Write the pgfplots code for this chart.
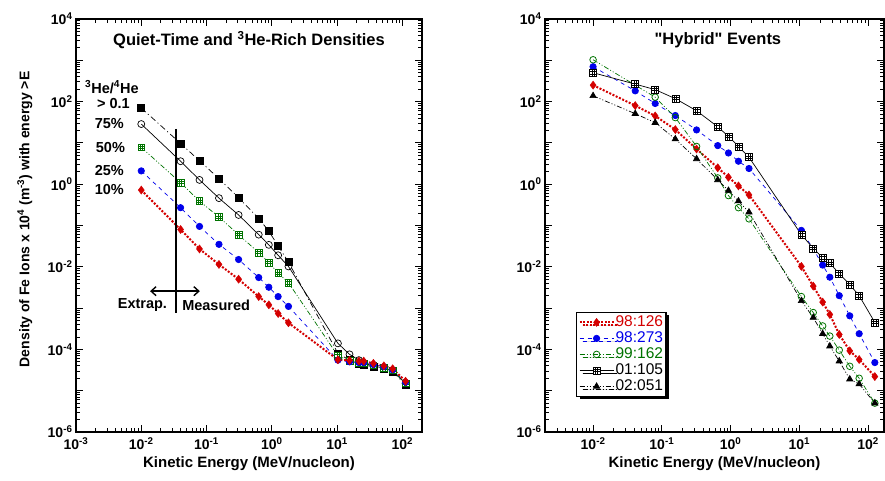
\documentclass[border=0pt]{standalone}
\usepackage{fontspec}
\setmainfont{Liberation Sans}
\usepackage{pgfplots}
\pgfplotsset{compat=1.18}
\usetikzlibrary{arrows.meta,shadows}

\definecolor{sred}{RGB}{212,0,0}
\definecolor{sblue}{RGB}{0,0,235}
\definecolor{sgreen}{RGB}{0,115,0}

% square with a small grid inside
\pgfdeclareplotmark{boxgrid}{%
  \pgfpathrectangle{\pgfpoint{-\pgfplotmarksize}{-\pgfplotmarksize}}{\pgfpoint{2\pgfplotmarksize}{2\pgfplotmarksize}}%
  \pgfusepathqfillstroke
  \pgfpathmoveto{\pgfpoint{-0.33\pgfplotmarksize}{-\pgfplotmarksize}}\pgfpathlineto{\pgfpoint{-0.33\pgfplotmarksize}{\pgfplotmarksize}}%
  \pgfpathmoveto{\pgfpoint{0.33\pgfplotmarksize}{-\pgfplotmarksize}}\pgfpathlineto{\pgfpoint{0.33\pgfplotmarksize}{\pgfplotmarksize}}%
  \pgfpathmoveto{\pgfpoint{-\pgfplotmarksize}{-0.33\pgfplotmarksize}}\pgfpathlineto{\pgfpoint{\pgfplotmarksize}{-0.33\pgfplotmarksize}}%
  \pgfpathmoveto{\pgfpoint{-\pgfplotmarksize}{0.33\pgfplotmarksize}}\pgfpathlineto{\pgfpoint{\pgfplotmarksize}{0.33\pgfplotmarksize}}%
  \pgfusepathqstroke
}

\newcommand{\tenp}[1]{\textbf{10\textsuperscript{#1}}}

\pgfplotsset{
  legend image code/.code={\draw[mark repeat=2,mark phase=2,#1] plot coordinates {(0pt,0pt) (17pt,0pt) (34pt,0pt)};},
  scale only axis,
  axis line style={line width=1.4pt},
  major tick length=0pt, minor tick length=0pt,
  tick label style={font=\fontsize{14}{14}\selectfont\bfseries},
  xticklabel style={yshift=-2pt},
  xlabel style={font=\fontsize{15}{15}\selectfont\bfseries},
  ylabel style={font=\fontsize{14}{14}\selectfont\bfseries},
  ytick={1e-6,1e-5,1e-4,1e-3,1e-2,1e-1,1,1e1,1e2,1e3,1e4},
  yticklabels={\tenp{-6},,\tenp{-4},,\tenp{-2},,\tenp{0},,\tenp{2},,\tenp{4}},
  xlabel={Kinetic Energy (MeV/nucleon)},
}
\tikzset{
  ttl/.style={font=\fontsize{16.5}{16.5}\selectfont\bfseries},
  ann/.style={font=\fontsize{14.5}{14.5}\selectfont\bfseries, inner sep=0pt},
  tkM/.style={line width=1.1pt, black},
  tkm/.style={line width=0.9pt, black},
}

\begin{document}
\begin{tikzpicture}
\useasboundingbox (0,0) rectangle (885pt,481pt);

% ---------------- left panel ----------------
\begin{axis}[xmode=log, ymode=log,
  at={(76pt,49pt)}, anchor=south west,
  width=346pt, height=413pt,
  xmin=1e-3, xmax=2e2, ymin=1e-6, ymax=1e4,
  xtick={1e-3,1e-2,1e-1,1,1e1,1e2},
  xticklabels={\tenp{-3},\tenp{-2},\tenp{-1},\tenp{0},\tenp{1},\tenp{2}},
  ylabel={Density of Fe Ions x 10\textsuperscript{4} (m\textsuperscript{-3}) with energy >E},
  ylabel style={at={(axis description cs:-0.148,0.515)}, anchor=center},
]
% >0.1
\addplot[black, line width=0.7pt, dash pattern=on 6pt off 3pt on 1pt off 3pt,
  mark=square*, mark size=3.5pt, mark options={solid}] coordinates {
 (0.01,70) (0.04,9.7) (0.078,3.7) (0.155,1.36) (0.31,0.47) (0.63,0.148)
 (0.9,0.073) (1.25,0.032) (1.8,0.013) (10.3,8.0e-5) (15.5,5.5e-5) (21.6,4.5e-5)
 (25.6,4.2e-5) (36,3.8e-5) (52,3.4e-5) (71,2.9e-5) (112,1.4e-5)};
% 75%
\addplot[black, line width=0.7pt, mark=o, mark size=3.5pt,
  mark options={solid, fill=white}] coordinates {
 (0.01,28.6) (0.04,3.6) (0.078,1.27) (0.155,0.46) (0.31,0.18) (0.63,0.06)
 (0.9,0.034) (1.25,0.019) (1.8,0.0102) (10.3,1.4e-4) (15.5,7.6e-5) (21.6,5.5e-5)
 (25.6,4.6e-5) (36,4.0e-5) (52,3.5e-5) (71,3.0e-5) (112,1.5e-5)};
% 50%
\addplot[sgreen, line width=0.7pt, dash pattern=on 5pt off 2pt on 1pt off 2pt on 1pt off 2pt,
  mark=boxgrid, mark size=3.3pt, mark options={solid, fill=white, line width=0.6pt}] coordinates {
 (0.01,7.8) (0.04,1.09) (0.078,0.39) (0.155,0.16) (0.31,0.06) (0.63,0.022)
 (0.9,0.0126) (1.25,0.0071) (1.8,0.0041) (10.3,7.0e-5) (15.5,5.3e-5) (21.6,4.8e-5)
 (25.6,4.6e-5) (36,4.1e-5) (52,3.6e-5) (71,3.1e-5) (112,1.5e-5)};
% 25%
\addplot[sblue, line width=0.7pt, dash pattern=on 4pt off 4pt,
  mark=*, mark size=3.2pt, mark options={solid}] coordinates {
 (0.01,2.1) (0.04,0.27) (0.078,0.095) (0.155,0.035) (0.31,0.015) (0.63,0.0055)
 (0.9,0.0032) (1.25,0.0019) (1.8,0.0011) (10.3,5.5e-5) (15.5,5.0e-5) (21.6,4.8e-5)
 (25.6,4.8e-5) (36,4.3e-5) (52,3.8e-5) (71,3.2e-5) (112,1.6e-5)};
% 10%
\addplot[sred, line width=2pt, dash pattern=on 2pt off 1.6pt,
  mark=diamond*, mark size=4pt, mark options={solid, line width=0.5pt}] coordinates {
 (0.01,0.72) (0.04,0.08) (0.078,0.027) (0.155,0.0114) (0.31,0.005) (0.63,0.0019)
 (0.9,0.0012) (1.25,7.4e-4) (1.8,4.4e-4) (10.3,5.6e-5) (15.5,5.4e-5) (21.6,5.2e-5)
 (25.6,5.2e-5) (36,4.6e-5) (52,4.0e-5) (71,3.4e-5) (112,1.7e-5)};

\node[ttl] at (rel axis cs:0.5,0.949) {Quiet-Time and \textsuperscript{3}He-Rich Densities};
\node[ann, anchor=west] at (rel axis cs:0.026,0.835) {\textsuperscript{3}He/\textsuperscript{4}He};
\node[ann, anchor=east] at (rel axis cs:0.156,0.795) {> 0.1};
\node[ann, anchor=east] at (rel axis cs:0.139,0.748) {75\%};
\node[ann, anchor=east] at (rel axis cs:0.142,0.690) {50\%};
\node[ann, anchor=east] at (rel axis cs:0.139,0.634) {25\%};
\node[ann, anchor=east] at (rel axis cs:0.139,0.586) {10\%};
\draw[line width=1.4pt] (rel axis cs:0.289,0.734) -- (rel axis cs:0.289,0.288);
\draw[line width=1.4pt, {Straight Barb[length=5pt,width=9pt]}-{Straight Barb[length=5pt,width=9pt]}]
  (rel axis cs:0.214,0.341) -- (rel axis cs:0.358,0.341);
\node[ann] at (rel axis cs:0.192,0.3075) {Extrap.};
\node[ann] at (rel axis cs:0.405,0.3075) {Measured};
\end{axis}

% ---------------- right panel ----------------
\begin{axis}[xmode=log, ymode=log,
  at={(545pt,49pt)}, anchor=south west,
  width=339pt, height=413pt,
  xmin=2e-3, xmax=1.7e2, ymin=1e-6, ymax=1e4,
  xtick={1e-2,1e-1,1,1e1,1e2},
  xticklabels={\tenp{-2},\tenp{-1},\tenp{0},\tenp{1},\tenp{2}},
  legend style={at={(0.0914,0.291)}, anchor=north west, draw=black, line width=1.2pt,
    fill=white, drop shadow={shadow xshift=3pt, shadow yshift=-3pt, fill=black, opacity=1},
    font=\fontsize{15.5}{15.5}\selectfont, row sep=0pt, inner sep=2pt,
    nodes={inner sep=1pt, text height=11pt, text depth=3pt}},
  legend cell align=left,
]
\addplot[sred, line width=2pt, dash pattern=on 2pt off 1.6pt,
  mark=diamond*, mark size=4pt, mark options={solid, line width=0.5pt}] coordinates {
 (0.01,250) (0.041,80) (0.08,45) (0.157,21) (0.32,7.1) (0.65,2.5) (0.93,1.47)
 (1.3,0.91) (1.85,0.55) (10.7,0.0102) (15.9,0.0034) (21.8,0.0014) (27.7,7e-4)
 (38,2.3e-4) (54,9.2e-5) (74,5.7e-5) (125,2.2e-5)};
\addlegendentry{\textcolor{sred}{98:126}}
\addplot[sblue, line width=0.7pt, dash pattern=on 4pt off 4pt,
  mark=*, mark size=3.2pt, mark options={solid}] coordinates {
 (0.01,700) (0.041,182) (0.08,90) (0.157,46) (0.32,20.6) (0.65,8.6) (0.93,5.7)
 (1.3,3.6) (1.85,2.4) (10.7,0.076) (15.9,0.027) (21.8,0.011) (27.7,0.0056)
 (38,0.002) (54,6.5e-4) (74,2.4e-4) (125,4.8e-5)};
\addlegendentry{\textcolor{sblue}{98:273}}
\addplot[sgreen, line width=0.7pt, dash pattern=on 5pt off 2pt on 1pt off 2pt on 1pt off 2pt,
  mark=o, mark size=3.3pt, mark options={solid, fill=white, line width=0.8pt}] coordinates {
 (0.01,1030) (0.08,128) (0.157,41) (0.32,8.2) (0.65,1.42) (0.93,0.53)
 (1.3,0.27) (1.85,0.145) (10.7,0.0019) (15.9,7.8e-4) (21.8,3.7e-4) (27.7,2.1e-4)
 (38,9.6e-5) (54,3.9e-5) (74,2.0e-5) (125,5e-6)};
\addlegendentry{\textcolor{sgreen}{99:162}}
\addplot[black, line width=0.7pt, mark=boxgrid, mark size=3.5pt,
  mark options={solid, fill=white, line width=0.6pt}] coordinates {
 (0.01,500) (0.041,265) (0.08,195) (0.157,118) (0.32,60) (0.65,24.5) (0.93,14.4)
 (1.3,8.2) (1.85,4.5) (10.7,0.06) (15.9,0.028) (21.8,0.0166) (27.7,0.0123)
 (38,0.0068) (54,0.0037) (74,0.002) (125,4.5e-4)};
\addlegendentry{01:105}
\addplot[black, line width=0.7pt, dash pattern=on 5pt off 2pt on 1pt off 2pt on 1pt off 2pt,
  mark=triangle*, mark size=3.6pt, mark options={solid}] coordinates {
 (0.01,138) (0.041,51) (0.08,31) (0.157,12.4) (0.32,4.1) (0.65,1.27) (0.93,0.7)
 (1.3,0.39) (1.85,0.21) (10.7,0.0015) (15.9,5.9e-4) (21.8,2.4e-4) (27.7,1.2e-4)
 (38,5.2e-5) (54,1.9e-5) (74,1.45e-5) (125,5e-6)};
\addlegendentry{02:051}

\node[ttl] at (rel axis cs:0.51,0.949) {\textquotedbl Hybrid\textquotedbl{} Events};
\end{axis}

% ---------------- tick marks on all four sides (inward) ----------------
% y ticks: both panels, one per decade, minor ticks at 2..9
\foreach \e in {0,...,10} {
  \pgfmathsetmacro{\yy}{49+\e*41.3}
  \draw[tkM] (76pt,{\yy pt}) -- ++(7pt,0);
  \draw[tkM] (422pt,{\yy pt}) -- ++(-7pt,0);
  \draw[tkM] (545pt,{\yy pt}) -- ++(7pt,0);
  \draw[tkM] (884pt,{\yy pt}) -- ++(-7pt,0);
}
\foreach \e in {0,...,9} { \foreach \m in {2,...,9} {
  \pgfmathsetmacro{\yy}{49+(\e+log10(\m))*41.3}
  \draw[tkm] (76pt,{\yy pt}) -- ++(4pt,0);
  \draw[tkm] (422pt,{\yy pt}) -- ++(-4pt,0);
  \draw[tkm] (545pt,{\yy pt}) -- ++(4pt,0);
  \draw[tkm] (884pt,{\yy pt}) -- ++(-4pt,0);
}}
% x ticks, left panel (1e-3 .. 2e2)
\foreach \e in {-3,...,2} {
  \pgfmathsetmacro{\xx}{76+(\e+3)/5.30103*346}
  \draw[tkM] ({\xx pt},49pt) -- ++(0,7pt);
  \draw[tkM] ({\xx pt},462pt) -- ++(0,-7pt);
}
\foreach \e in {-3,...,1} { \foreach \m in {2,...,9} {
  \pgfmathsetmacro{\xx}{76+(\e+3+log10(\m))/5.30103*346}
  \draw[tkm] ({\xx pt},49pt) -- ++(0,4pt);
  \draw[tkm] ({\xx pt},462pt) -- ++(0,-4pt);
}}
% x ticks, right panel (2e-3 .. 1.7e2)
\foreach \e in {-2,...,2} {
  \pgfmathsetmacro{\xx}{545+(\e+2.69897)/4.92942*339}
  \draw[tkM] ({\xx pt},49pt) -- ++(0,7pt);
  \draw[tkM] ({\xx pt},462pt) -- ++(0,-7pt);
}
\foreach \e/\mlist in {-3/{3,4,5,6,7,8,9},-2/{2,3,4,5,6,7,8,9},-1/{2,3,4,5,6,7,8,9},0/{2,3,4,5,6,7,8,9},1/{2,3,4,5,6,7,8,9}} {
  \foreach \m in \mlist {
    \pgfmathsetmacro{\xx}{545+(\e+2.69897+log10(\m))/4.92942*339}
    \draw[tkm] ({\xx pt},49pt) -- ++(0,4pt);
    \draw[tkm] ({\xx pt},462pt) -- ++(0,-4pt);
}}
\end{tikzpicture}
\end{document}
